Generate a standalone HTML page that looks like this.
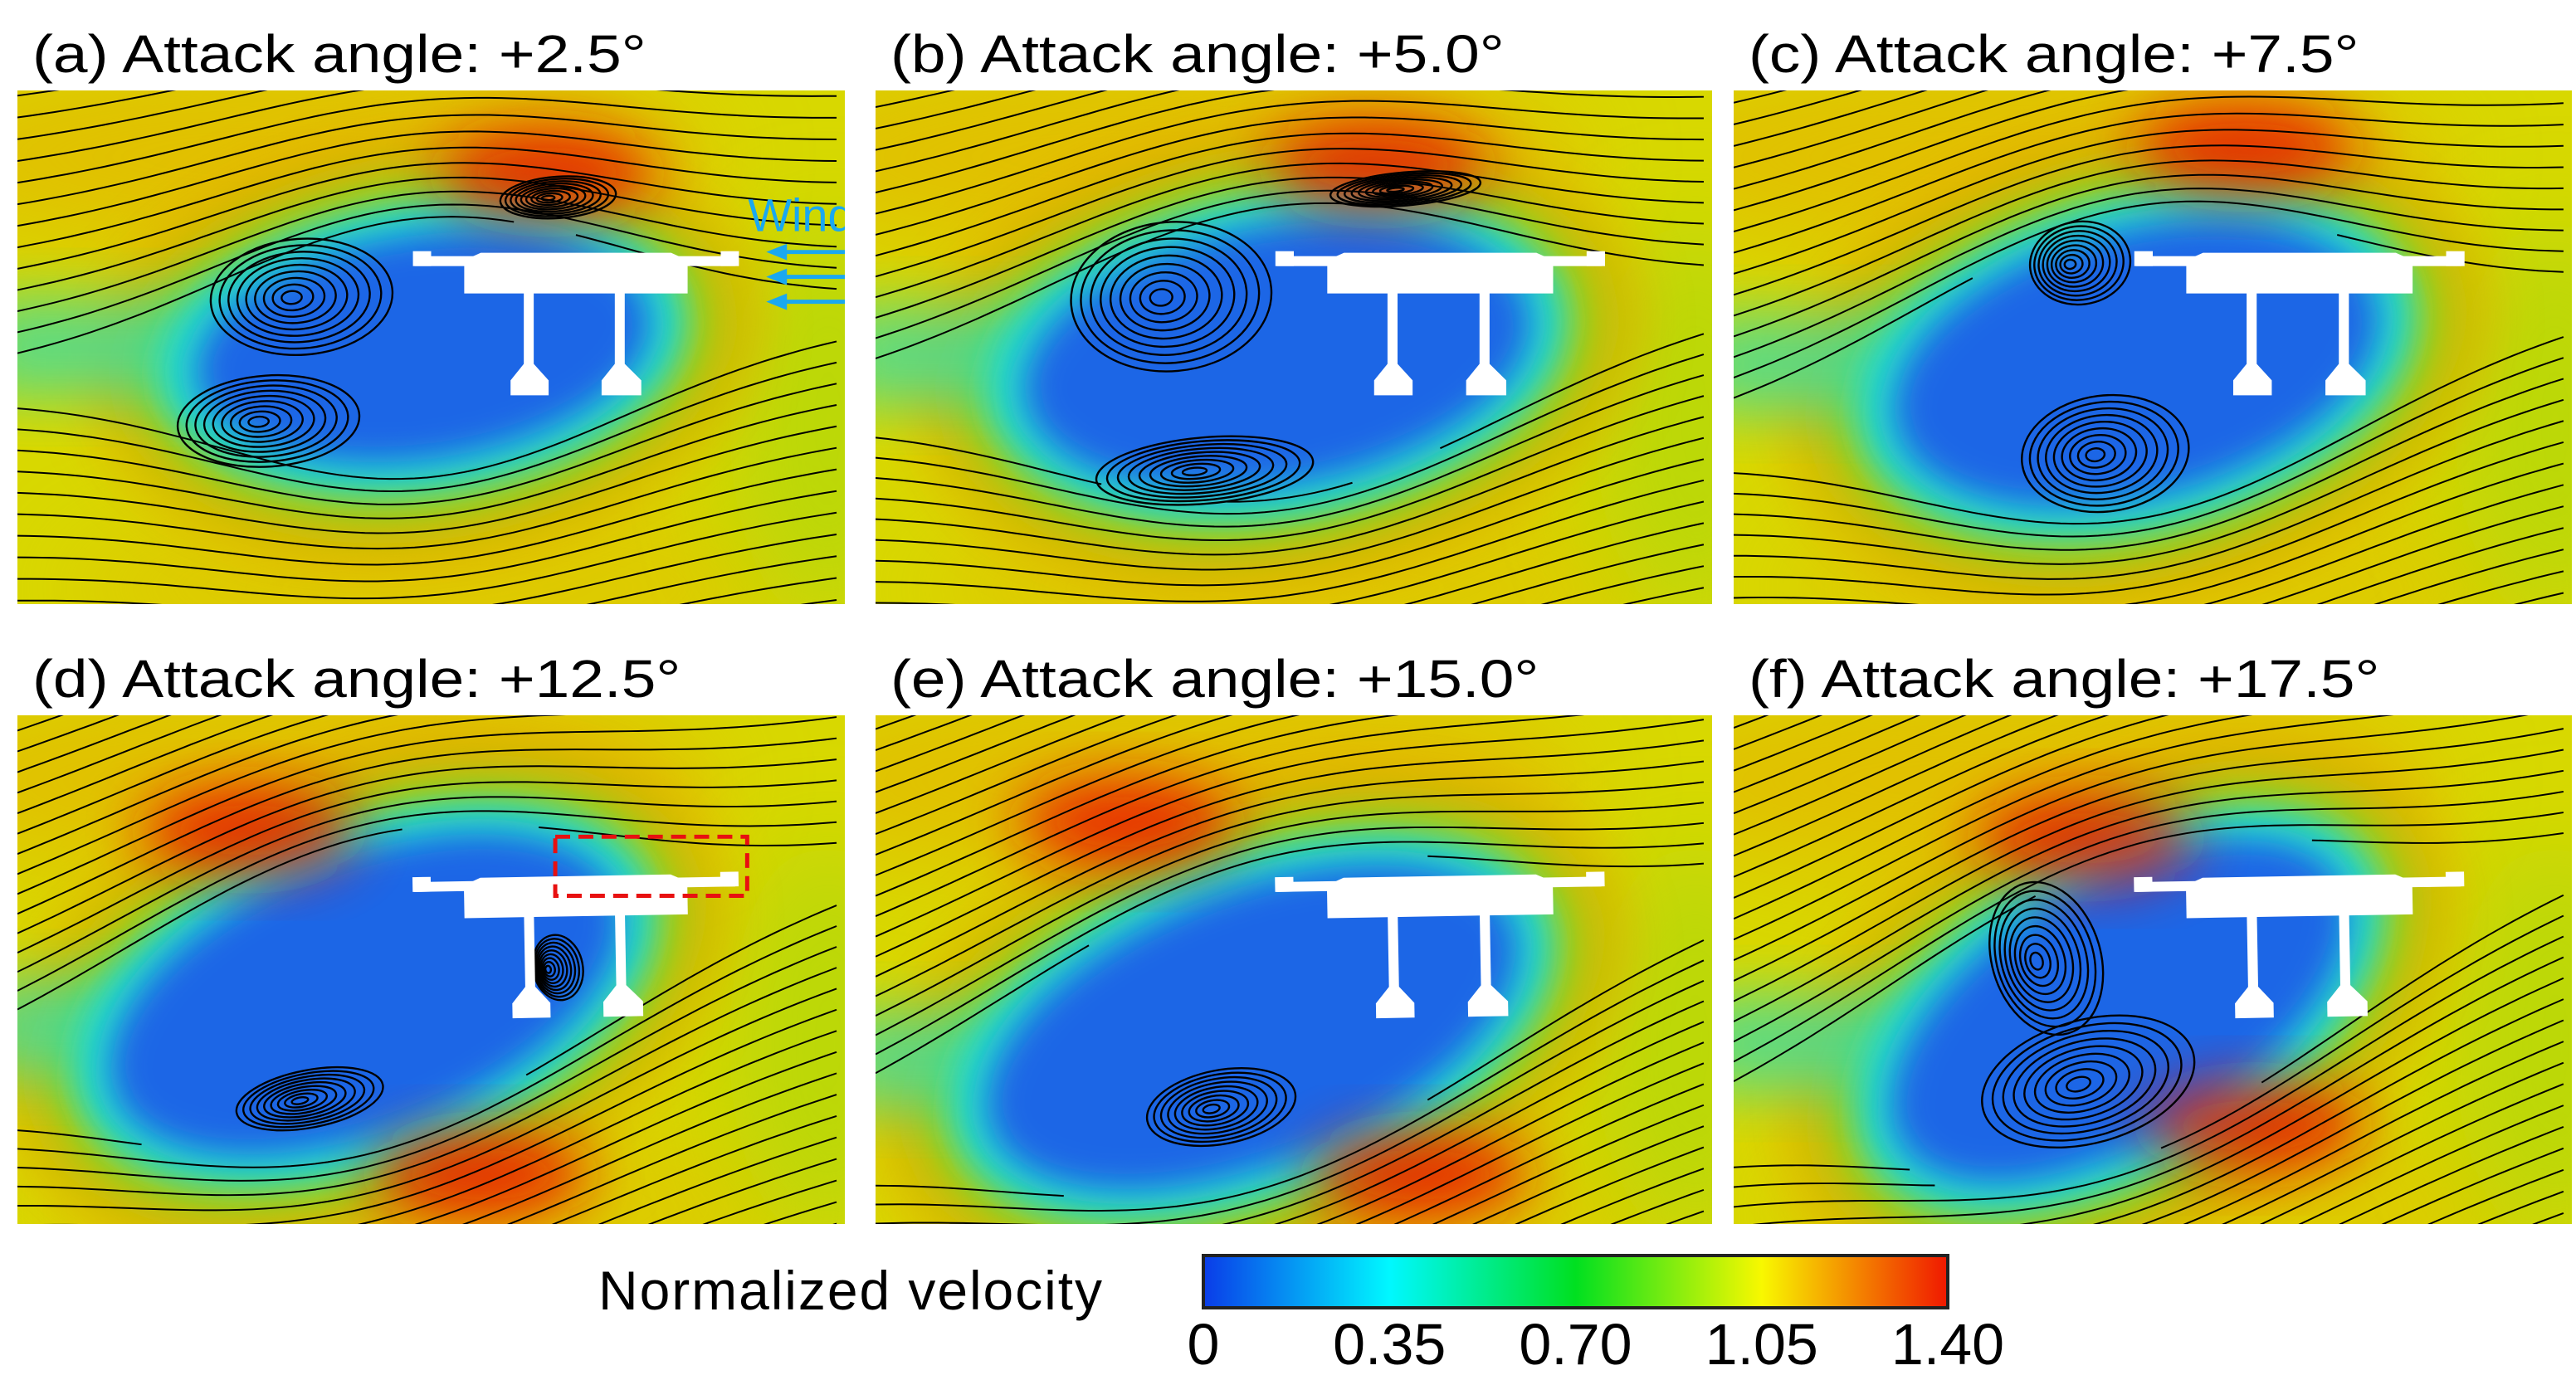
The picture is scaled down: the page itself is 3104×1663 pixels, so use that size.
<!DOCTYPE html>
<html><head><meta charset="utf-8">
<style>
html,body{margin:0;padding:0;background:#fff;}
body{width:3104px;height:1663px;position:relative;overflow:hidden;font-family:"Liberation Sans",Arial,sans-serif;}
.title{position:absolute;font-size:64px;color:#000;white-space:nowrap;line-height:1;transform-origin:0 0;transform:scaleX(1.17);}
svg{position:absolute;}
</style></head>
<body>
<div id="root"></div>
<svg id="cb" style="left:0;top:0" width="3104" height="1663">
  <defs>
    <linearGradient id="cbg" x1="0" x2="1" y1="0" y2="0">
      <stop offset="0" stop-color="#0a3ce8"/>
      <stop offset="0.25" stop-color="#00f8ff"/>
      <stop offset="0.5" stop-color="#00e020"/>
      <stop offset="0.75" stop-color="#f8f800"/>
      <stop offset="1" stop-color="#f01800"/>
    </linearGradient>
  </defs>
  <rect x="1450" y="1513" width="897" height="63" fill="url(#cbg)" stroke="#222" stroke-width="4"/>
  <text x="721" y="1578" font-size="66" textLength="607" font-family="Liberation Sans, sans-serif">Normalized velocity</text>
  <g id="cbticks"></g>
</svg>
<script>
const panelLabels=['a','b','c','d','e','f'];
const angles=[2.5,5.0,7.5,12.5,15.0,17.5];
const cbTicks=[0,0.35,0.70,1.05,1.40];
const cbTickLabels=['0','0.35','0.70','1.05','1.40'];
const wakeCx=[490,480,480,420,450,460];
const wakeCy=[310,320,330,340,380,360];
const wakeRx=[290,320,310,340,350,320];
const wakeRy=[150,170,175,180,180,170];
const wakeRot=[-8,-10,-15,-22,-22,-32];
const redBlobs=[[[640,100]],[[600,90]],[[610,70]],[[280,140],[560,560]],[[300,130],[650,560]],[[420,150],[620,500]]];
const vortices=[[[330,250,110,70],[290,400,110,55],[640,130,70,25]],[[340,250,120,90],[380,460,130,40],[620,120,90,20]],[[400,210,60,50],[430,440,100,70]],[[340,470,90,35],[640,310,30,40]],[[400,480,90,45]],[[360,300,65,95],[410,450,130,75]]];

const NS='http://www.w3.org/2000/svg';
const panelX=[21,1055,2089,21,1055,2089];
const panelY=[109,109,109,862,862,862];
const panelW=[997,1008,1010,997,1008,1010];
const panelH=[619,619,619,613,613,613];

function mk(tag,attrs,parent){const e=document.createElementNS(NS,tag);for(const k in attrs)e.setAttribute(k,attrs[k]);if(parent)parent.appendChild(e);return e;}

for(let i=0;i<6;i++){
  const t=document.createElement('div');
  t.className='title';
  
  
  t.style.left=(panelX[i]+18)+'px';
  t.style.top=(panelY[i]-76)+'px';
  t.textContent='('+panelLabels[i]+') Attack angle: +'+angles[i].toFixed(1)+'\u00B0';
  document.body.appendChild(t);

  const s=mk('svg',{width:panelW[i],height:panelH[i],viewBox:'0 0 1000 620',preserveAspectRatio:'none'});
  
  
  s.style.left=panelX[i]+'px';s.style.top=panelY[i]+'px';
  document.body.appendChild(s);
  const defs=mk('defs',{},s);
  [8,20,35,60].forEach(b=>{const f=mk('filter',{id:'b'+b+'_'+i,x:'-50%',y:'-50%',width:'200%',height:'200%'},defs);mk('feGaussianBlur',{stdDeviation:b},f);});
  const cl=mk('clipPath',{id:'c'+i},defs);mk('rect',{x:0,y:0,width:1000,height:620},cl);
  const g=mk('g',{'clip-path':'url(#c'+i+')'},s);
  mk('rect',{x:0,y:0,width:1000,height:620,fill:'#d8d800'},g);
  mk('ellipse',{cx:350,cy:80,rx:500,ry:120,fill:'#eaa800',opacity:0.5,filter:'url(#b60_'+i+')'},g);
  mk('ellipse',{cx:500,cy:600,rx:450,ry:90,fill:'#e8b000',opacity:0.4,filter:'url(#b60_'+i+')'},g);
  mk('ellipse',{cx:980,cy:400,rx:120,ry:250,fill:'#a8d810',opacity:0.6,filter:'url(#b60_'+i+')'},g);
  const cx=wakeCx[i],cy=wakeCy[i],rx=wakeRx[i],ry=wakeRy[i],rot=wakeRot[i];
  const tr='rotate('+rot+' '+cx+' '+cy+')';
  mk('ellipse',{cx:cx,cy:cy,rx:rx+110,ry:ry+100,fill:'#ee9a00',opacity:0.7,transform:tr,filter:'url(#b35_'+i+')'},g);
  mk('ellipse',{cx:cx,cy:cy,rx:rx+70,ry:ry+60,fill:'#8fd818',transform:tr,filter:'url(#b35_'+i+')'},g);
  mk('rect',{x:-50,y:cy-60+(i>2?40:0),width:cx,height:120,fill:'#40dca0',opacity:0.8,filter:'url(#b35_'+i+')'},g);
  mk('ellipse',{cx:cx,cy:cy,rx:rx+30,ry:ry+25,fill:'#20d8d0',transform:tr,filter:'url(#b20_'+i+')'},g);
  mk('ellipse',{cx:cx,cy:cy,rx:rx-15,ry:ry-15,fill:'#1a66e6',transform:tr,filter:'url(#b20_'+i+')'},g);
  redBlobs[i].forEach(r=>mk('ellipse',{cx:r[0],cy:r[1],rx:130,ry:55,fill:'#ea1800',opacity:0.85,filter:'url(#b35_'+i+')'},g));
  const sl=mk('g',{fill:'none',stroke:'#000','stroke-width':2},g);
  
  const tk=0.04+angles[i]*0.016;
  const cr=Math.cos(-rot*Math.PI/180), sr=Math.sin(-rot*Math.PI/180);
  function inside(x,y){const dx=x-cx,dy=y-cy;const u=dx*cr-dy*sr,v=dx*sr+dy*cr;return (u*u)/(rx*rx)+(v*v)/(ry*ry)<1;}
  for(let k=-30;k<60;k++){
    const y0=k*27;
    const yc=y0-tk*(cx-500);
    const dd=yc-cy;
    if(Math.abs(dd)>1200) continue;
    let d='';let pen=false;
    for(let x=0;x<=1000;x+=15){
      let yy=y0-tk*(x-500);
      const push=Math.sign(dd||1)*(ry*1.0)*Math.exp(-Math.pow((x-cx)/(rx*1.2),2))*Math.exp(-Math.abs(dd)/(ry*2));
      yy+=push;
      if(inside(x,yy)){pen=false;continue;}
      d+=(pen?'L':'M')+x+' '+yy.toFixed(1)+' ';pen=true;
    }
    if(d) mk('path',{d:d},sl);
  }
  vortices[i].forEach((v,j)=>{
    const vg=mk('g',{fill:'none',stroke:'#000','stroke-width':2.4},g);
    
    for(let n=1;n<=9;n++)mk('ellipse',{cx:v[0]+n*1.5,cy:v[1],rx:v[2]*n/9,ry:v[3]*n/9,transform:'rotate('+(rot/2)+' '+v[0]+' '+v[1]+')'},vg);
  });
  const dk=mk('g',{fill:'#fff',transform:'rotate('+(i>2?-1:0)+' 670 230)'},g);
  
  
  mk('rect',{x:480,y:200,width:388,height:12},dk);
  mk('rect',{x:478,y:194,width:22,height:18},dk);
  mk('rect',{x:850,y:194,width:22,height:18},dk);
  mk('path',{d:'M540 205 L560 196 L790 196 L810 205 L810 245 L540 245 Z'},dk);
  mk('rect',{x:612,y:240,width:12,height:100},dk);
  mk('rect',{x:722,y:240,width:12,height:100},dk);
  mk('path',{d:'M612 330 L624 330 L642 350 L642 368 L596 368 L596 350 Z'},dk);
  mk('path',{d:'M722 330 L734 330 L754 350 L754 368 L706 368 L706 350 Z'},dk);
  if(i===0){
    const w=mk('g',{},g);
    
    
    const tx=mk('text',{x:883,y:170,'font-size':56,fill:'#1aa8f0','font-family':'Liberation Sans, sans-serif'},w);tx.textContent='Wind';
    [195,225,255].forEach(y=>{mk('line',{x1:1000,y1:y,x2:920,y2:y,stroke:'#1aa8f0','stroke-width':5},w);mk('path',{d:'M905 '+y+' L930 '+(y-10)+' L930 '+(y+10)+' Z',fill:'#1aa8f0'},w);});
  }
  if(i===3){
    const bx=mk('rect',{x:650,y:148,width:232,height:72,fill:'none',stroke:'#e81010','stroke-width':5,'stroke-dasharray':'18 10'},g);
    
    
  }
}
const ct=document.getElementById('cbticks');
cbTicks.forEach((v,k)=>{
  const x=1450+v/1.40*897;
  const t=mk('text',{x:x,y:1644,'font-size':70,'text-anchor':'middle','font-family':'Liberation Sans, sans-serif'},ct);
  
  
  t.textContent=cbTickLabels[k];
});
</script>
</body></html>
